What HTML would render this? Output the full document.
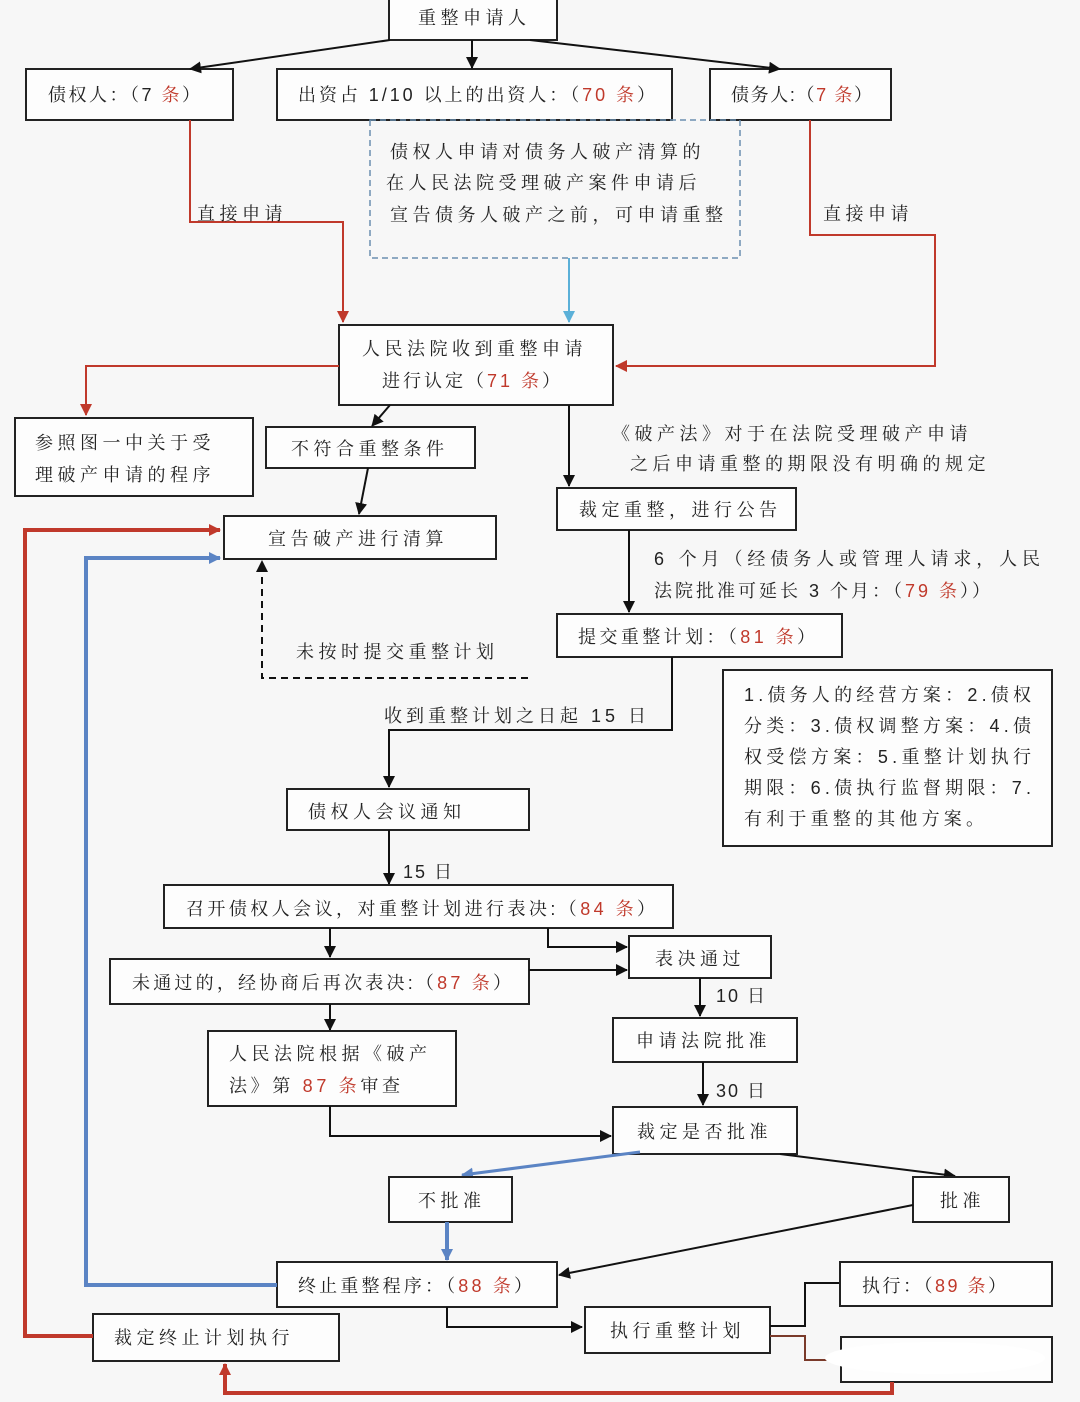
<!DOCTYPE html>
<html><head><meta charset="utf-8">
<style>
html,body{margin:0;padding:0;background:#f7f7f7;}
svg{display:block;}
text{font-family:"Liberation Sans","Noto Serif CJK SC","Noto Sans CJK SC",sans-serif;font-size:18px;fill:#222;letter-spacing:4.5px;}
text.t{letter-spacing:0;}
.r{fill:#c0392b;}
.b{fill:#fdfdfd;stroke:#222;stroke-width:2;}
.l{stroke:#111;stroke-width:2;fill:none;}
</style></head><body>
<svg width="1080" height="1402" viewBox="0 0 1080 1402" xmlns="http://www.w3.org/2000/svg">
<defs>
<marker id="ak" markerWidth="12" markerHeight="12" refX="11" refY="6" orient="auto" markerUnits="userSpaceOnUse"><path d="M0,0 L12,6 L0,12 z" fill="#111"/></marker>
<marker id="ar" markerWidth="12" markerHeight="12" refX="11" refY="6" orient="auto" markerUnits="userSpaceOnUse"><path d="M0,0 L12,6 L0,12 z" fill="#c0392b"/></marker>
<marker id="ab" markerWidth="12" markerHeight="12" refX="11" refY="6" orient="auto" markerUnits="userSpaceOnUse"><path d="M0,0 L12,6 L0,12 z" fill="#5b84c4"/></marker>
<marker id="ac" markerWidth="12" markerHeight="12" refX="11" refY="6" orient="auto" markerUnits="userSpaceOnUse"><path d="M0,0 L12,6 L0,12 z" fill="#5bb0d8"/></marker>
</defs>

<rect class="b" x="389" y="-2" width="168" height="42"/>
<text x="418" y="24">重整申请人</text>
<rect class="b" x="26" y="69" width="207" height="51"/>
<text class="t" x="48" y="101" textLength="152">债权人：（7 <tspan class="r">条</tspan>）</text>
<rect class="b" x="277" y="69" width="395" height="51"/>
<text class="t" x="298" y="101" textLength="357">出资占 1/10 以上的出资人：（<tspan class="r">70 条</tspan>）</text>
<rect class="b" x="710" y="69" width="181" height="51"/>
<text class="t" x="731" y="101" textLength="141">债务人:（<tspan class="r">7 条</tspan>）</text>

<line class="l" x1="390" y1="40" x2="190" y2="69" marker-end="url(#ak)"/>
<line class="l" x1="472" y1="40" x2="472" y2="68" marker-end="url(#ak)"/>
<line class="l" x1="530" y1="40" x2="780" y2="69" marker-end="url(#ak)"/>

<rect x="370" y="120" width="370" height="138" fill="none" stroke="#6b8fb0" stroke-width="1.5" stroke-dasharray="6,4"/>
<text x="390" y="158">债权人申请对债务人破产清算的</text>
<text x="386" y="189">在人民法院受理破产案件申请后</text>
<text x="390" y="221">宣告债务人破产之前，可申请重整</text>
<line x1="569" y1="258" x2="569" y2="322" stroke="#5bb0d8" stroke-width="2" marker-end="url(#ac)"/>

<polyline points="190,120 190,222 343,222 343,322" fill="none" stroke="#c0392b" stroke-width="2" marker-end="url(#ar)"/>
<text x="197" y="220">直接申请</text>
<polyline points="810,120 810,235 935,235 935,366 616,366" fill="none" stroke="#c0392b" stroke-width="2" marker-end="url(#ar)"/>
<text x="823" y="220">直接申请</text>

<rect class="b" x="339" y="325" width="274" height="80"/>
<text x="362" y="355">人民法院收到重整申请</text>
<text class="t" x="382" y="387" textLength="178">进行认定（<tspan class="r">71 条</tspan>）</text>

<polyline points="339,366 86,366 86,415" fill="none" stroke="#c0392b" stroke-width="2" marker-end="url(#ar)"/>
<rect class="b" x="15" y="418" width="238" height="78"/>
<text x="35" y="449">参照图一中关于受</text>
<text x="35" y="481">理破产申请的程序</text>

<rect class="b" x="266" y="427" width="209" height="41"/>
<text x="291" y="455">不符合重整条件</text>
<line class="l" x1="390" y1="405" x2="372" y2="426" marker-end="url(#ak)"/>
<line class="l" x1="368" y1="468" x2="359" y2="514" marker-end="url(#ak)"/>

<rect class="b" x="224" y="516" width="272" height="43"/>
<text x="268" y="545">宣告破产进行清算</text>

<line class="l" x1="569" y1="405" x2="569" y2="486" marker-end="url(#ak)"/>
<text x="612" y="440">《破产法》对于在法院受理破产申请</text>
<text x="630" y="470">之后申请重整的期限没有明确的规定</text>

<rect class="b" x="557" y="488" width="239" height="42"/>
<text x="579" y="516">裁定重整，进行公告</text>
<line class="l" x1="629" y1="530" x2="629" y2="612" marker-end="url(#ak)"/>
<text class="t" x="654" y="565" textLength="386">6 个月（经债务人或管理人请求，人民</text>
<text class="t" x="654" y="597" textLength="336">法院批准可延长 3 个月：（<tspan class="r">79 条</tspan>））</text>

<rect class="b" x="557" y="614" width="285" height="43"/>
<text class="t" x="578" y="643" textLength="237">提交重整计划：（<tspan class="r">81 条</tspan>）</text>

<polyline points="528,678 262,678 262,561" fill="none" stroke="#111" stroke-width="2" stroke-dasharray="7,5" marker-end="url(#ak)"/>
<text x="296" y="658">未按时提交重整计划</text>

<rect class="b" x="723" y="670" width="329" height="176"/>
<text class="t" x="744" y="701" textLength="287">1.债务人的经营方案：2.债权</text>
<text class="t" x="744" y="732" textLength="287">分类：3.债权调整方案：4.债</text>
<text class="t" x="744" y="763" textLength="287">权受偿方案：5.重整计划执行</text>
<text class="t" x="744" y="794" textLength="287">期限：6.债执行监督期限：7.</text>
<text class="t" x="744" y="825" textLength="240">有利于重整的其他方案。</text>

<polyline points="672,657 672,730 389,730 389,787" fill="none" stroke="#111" stroke-width="2" marker-end="url(#ak)"/>
<text class="t" x="384" y="722" textLength="262">收到重整计划之日起 15 日</text>

<rect class="b" x="287" y="789" width="242" height="41"/>
<text x="308" y="818">债权人会议通知</text>
<line class="l" x1="389" y1="830" x2="389" y2="884" marker-end="url(#ak)"/>
<text class="t" x="403" y="878" textLength="49">15 日</text>

<rect class="b" x="164" y="885" width="509" height="43"/>
<text class="t" x="186" y="915" textLength="469">召开债权人会议，对重整计划进行表决:（<tspan class="r">84 条</tspan>）</text>
<line class="l" x1="330" y1="928" x2="330" y2="957" marker-end="url(#ak)"/>
<polyline points="548,928 548,947 627,947" fill="none" stroke="#111" stroke-width="2" marker-end="url(#ak)"/>

<rect class="b" x="629" y="936" width="142" height="42"/>
<text x="655" y="965">表决通过</text>

<rect class="b" x="110" y="959" width="419" height="45"/>
<text class="t" x="132" y="989" textLength="379">未通过的，经协商后再次表决:（<tspan class="r">87 条</tspan>）</text>
<line class="l" x1="529" y1="970" x2="627" y2="970" marker-end="url(#ak)"/>

<line class="l" x1="700" y1="978" x2="700" y2="1016" marker-end="url(#ak)"/>
<text class="t" x="716" y="1002" textLength="49">10 日</text>
<rect class="b" x="613" y="1018" width="184" height="44"/>
<text x="636" y="1047">申请法院批准</text>

<line class="l" x1="330" y1="1004" x2="330" y2="1030" marker-end="url(#ak)"/>
<rect class="b" x="208" y="1031" width="248" height="75"/>
<text x="229" y="1060">人民法院根据《破产</text>
<text class="t" x="229" y="1092" textLength="171">法》第 <tspan class="r">87 条</tspan>审查</text>

<polyline points="330,1106 330,1136 611,1136" fill="none" stroke="#111" stroke-width="2" marker-end="url(#ak)"/>
<line class="l" x1="703" y1="1062" x2="703" y2="1105" marker-end="url(#ak)"/>
<text class="t" x="716" y="1097" textLength="49">30 日</text>

<rect class="b" x="613" y="1107" width="184" height="47"/>
<text x="637" y="1138">裁定是否批准</text>

<line x1="640" y1="1152" x2="462" y2="1175" stroke="#5b84c4" stroke-width="3" marker-end="url(#ab)"/>
<line class="l" x1="780" y1="1154" x2="955" y2="1176" marker-end="url(#ak)"/>

<rect class="b" x="389" y="1177" width="123" height="45"/>
<text x="418" y="1207">不批准</text>
<rect class="b" x="913" y="1177" width="96" height="45"/>
<text x="940" y="1207">批准</text>

<line x1="447" y1="1222" x2="447" y2="1260" stroke="#5b84c4" stroke-width="4" marker-end="url(#ab)"/>
<line class="l" x1="913" y1="1205" x2="559" y2="1275" marker-end="url(#ak)"/>

<rect class="b" x="277" y="1262" width="280" height="45"/>
<text class="t" x="298" y="1292" textLength="234">终止重整程序：（<tspan class="r">88 条</tspan>）</text>
<polyline points="277,1285 86,1285 86,558 220,558" fill="none" stroke="#5b84c4" stroke-width="4" marker-end="url(#ab)"/>

<polyline points="447,1307 447,1327 582,1327" fill="none" stroke="#111" stroke-width="2" marker-end="url(#ak)"/>
<rect class="b" x="585" y="1307" width="185" height="46"/>
<text x="610" y="1337">执行重整计划</text>

<polyline points="770,1326 805,1326 805,1283 840,1283" fill="none" stroke="#111" stroke-width="2"/>
<polyline points="770,1336 805,1336 805,1360 840,1360" fill="none" stroke="#7a3a2a" stroke-width="2"/>
<rect class="b" x="840" y="1262" width="212" height="44"/>
<text class="t" x="862" y="1292" textLength="144">执行：（<tspan class="r">89 条</tspan>）</text>
<rect class="b" x="841" y="1337" width="211" height="45"/>
<ellipse cx="935" cy="1358" rx="110" ry="16" fill="#ffffff"/>

<rect class="b" x="93" y="1314" width="246" height="47"/>
<text x="114" y="1344">裁定终止计划执行</text>

<polyline points="93,1336 25,1336 25,530 220,530" fill="none" stroke="#c0392b" stroke-width="4" marker-end="url(#ar)"/>
<polyline points="892,1382 892,1393 225,1393 225,1364" fill="none" stroke="#c0392b" stroke-width="4" marker-end="url(#ar)"/>
</svg>
</body></html>
